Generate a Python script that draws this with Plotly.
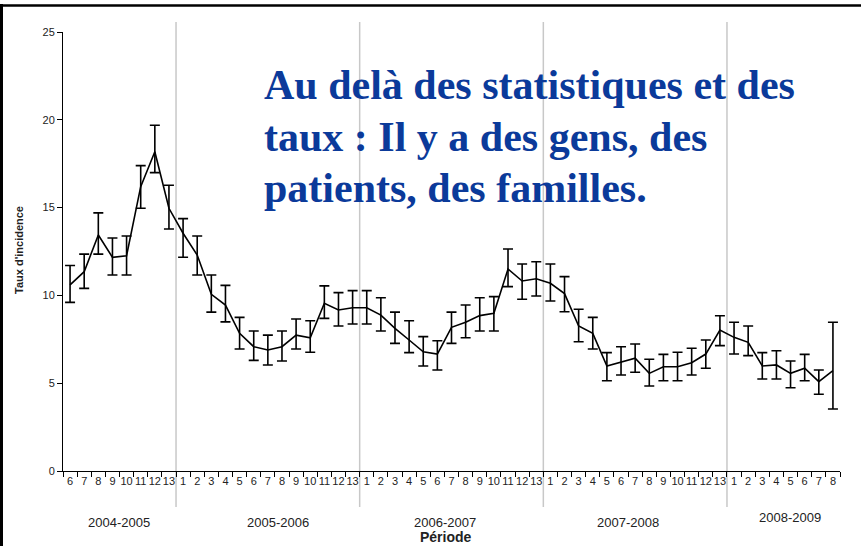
import plotly.graph_objects as go

# ---- data ----
years = ["2004-2005"] * 8 + ["2005-2006"] * 13 + ["2006-2007"] * 13 + ["2007-2008"] * 13 + ["2008-2009"] * 8
periods = ([str(p) for p in range(6, 14)] + [str(p) for p in range(1, 14)] * 3 + [str(p) for p in range(1, 9)])

values = [10.6, 11.35, 13.44, 12.17, 12.26, 16.19, 18.18, 14.96,
          13.54, 12.3, 10.06, 9.45, 7.84, 7.08, 6.89, 7.08, 7.74, 7.59, 9.55, 9.17, 9.3,
          9.3, 8.88, 8.12, 7.46, 6.79, 6.66, 8.18, 8.47, 8.85, 8.98, 11.5, 10.82, 10.95,
          10.69, 10.1, 8.26, 7.84, 5.98, 6.22, 6.42, 5.56, 5.94, 5.94, 6.17, 6.66, 8.03,
          7.61, 7.33, 5.98, 6.04, 5.56, 5.85, 5.09, 5.71]
upper = [11.7, 12.35, 14.7, 13.27, 13.38, 17.39, 19.69, 16.27,
         14.37, 13.38, 11.16, 10.57, 8.75, 7.97, 7.74, 7.97, 8.66, 8.56, 10.54, 10.16, 10.27,
         10.27, 9.87, 9.05, 8.56, 7.65, 7.42, 9.05, 9.45, 9.87, 9.93, 12.64, 11.79, 11.92,
         11.79, 11.07, 9.21, 8.75, 6.74, 7.08, 7.23, 6.36, 6.64, 6.76, 6.99, 7.46, 8.84,
         8.47, 8.26, 6.74, 6.85, 6.26, 6.64, 5.75, 8.47]
lower = [9.6, 10.4, 12.35, 11.16, 11.16, 14.96, 16.99, 13.78,
         12.17, 11.16, 9.05, 8.49, 6.95, 6.3, 6.04, 6.26, 6.95, 6.76, 8.69, 8.26, 8.37,
         8.37, 7.97, 7.27, 6.74, 5.98, 5.75, 7.27, 7.59, 7.97, 7.97, 10.5, 9.78, 9.97,
         9.68, 9.07, 7.36, 6.95, 5.14, 5.47, 5.62, 4.84, 5.14, 5.14, 5.47, 5.85, 7.14,
         6.66, 6.57, 5.24, 5.24, 4.74, 5.14, 4.37, 3.53]
season_labels = ["2004-2005", "2005-2006", "2006-2007", "2007-2008", "2008-2009"]
title_lines = ["Au delà des statistiques et des",
               "taux : Il y a des gens, des",
               "patients, des familles."]

# ---- figure ----
cats = [f"{y} {p}" for y, p in zip(years, periods)]
err_plus = [u - v for u, v in zip(upper, values)]
err_minus = [v - l for v, l in zip(values, lower)]

fig = go.Figure()
fig.add_trace(go.Scatter(
    x=cats, y=values, mode="lines",
    line=dict(color="black", width=1.6),
    error_y=dict(type="data", symmetric=False, array=err_plus, arrayminus=err_minus,
                 color="black", thickness=1.6, width=5),
    showlegend=False, hoverinfo="skip"))

W, H = 861, 546
L, R, T, B = 63, 21, 32, 75
pw, ph = W - L - R, H - T - B


def px2x(px):
    return (px - L) / pw


def px2y(py):
    return (H - B - py) / ph


shapes = []
# separators between seasons
idx = 0
bounds = []
for s in season_labels:
    idx += years.count(s)
    bounds.append(idx - 0.5)
for b in bounds[:-1]:
    shapes.append(dict(type="line", xref="x", yref="paper", x0=b, x1=b,
                       y0=px2y(507), y1=px2y(22),
                       line=dict(color="#c8c8c8", width=1.5), layer="below"))
# slide frame
shapes.append(dict(type="line", xref="paper", yref="paper", x0=px2x(0), x1=px2x(861),
                   y0=px2y(5.5), y1=px2y(5.5), line=dict(color="black", width=2.5)))
shapes.append(dict(type="line", xref="paper", yref="paper", x0=px2x(1.5), x1=px2x(1.5),
                   y0=px2y(546), y1=px2y(4), line=dict(color="black", width=3)))

annotations = []
season_px = [119, 278, 445, 628, 790]
season_py = [522, 522, 522, 522, 517]
for s, xp, yp in zip(season_labels, season_px, season_py):
    annotations.append(dict(text=s, xref="paper", yref="paper", x=px2x(xp), y=px2y(yp),
                            showarrow=False, xanchor="center", yanchor="middle",
                            font=dict(family="Arial", size=13, color="#222")))
annotations.append(dict(text="<b>Période</b>", xref="paper", yref="paper", x=px2x(446),
                        y=px2y(537), showarrow=False, xanchor="center", yanchor="middle",
                        font=dict(family="Arial", size=14, color="#222")))
annotations.append(dict(text="<b>Taux d'incidence</b>", xref="paper", yref="paper",
                        x=px2x(19), y=px2y(250), textangle=-90, showarrow=False,
                        xanchor="center", yanchor="middle",
                        font=dict(family="Arial", size=11, color="#222")))
title_py = [85, 137, 188]
for line, yp in zip(title_lines, title_py):
    annotations.append(dict(text=f"<b>{line}</b>", xref="paper", yref="paper",
                            x=px2x(262), y=px2y(yp), showarrow=False,
                            xanchor="left", yanchor="middle",
                            font=dict(family="Liberation Serif", size=42, color="#0b3a9a")))

fig.update_layout(
    width=W, height=H,
    margin=dict(l=L, r=R, t=T, b=B, autoexpand=False),
    paper_bgcolor="white", plot_bgcolor="white",
    shapes=shapes, annotations=annotations,
    xaxis=dict(type="category", categoryorder="array", categoryarray=cats,
               tickmode="array", tickvals=cats, ticktext=periods,
               tickson="boundaries", ticks="outside", ticklen=5, tickcolor="black",
               showline=True, linecolor="black", linewidth=1, showgrid=False,
               zeroline=False, range=[-0.5, len(cats) - 0.5],
               tickfont=dict(family="Arial", size=11, color="#222"), tickangle=0),
    yaxis=dict(range=[0, 25], tickvals=[0, 5, 10, 15, 20, 25], ticks="outside",
               ticklen=5, tickcolor="black", showline=True, linecolor="black",
               linewidth=1, showgrid=False, zeroline=False,
               tickfont=dict(family="Arial", size=11, color="#222")),
)

fig.write_html("out.html", config={"displayModeBar": False},
               post_script="document.body.style.margin='0';document.body.style.overflow='hidden';")
